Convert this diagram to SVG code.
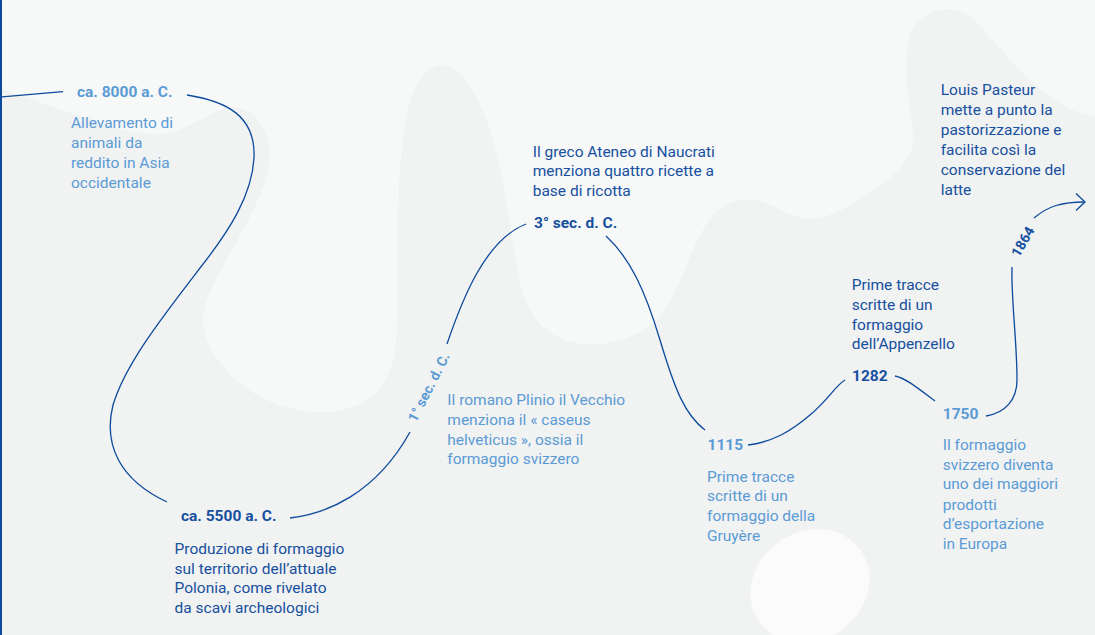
<svg xmlns="http://www.w3.org/2000/svg" width="1095" height="635" viewBox="0 0 1095 635">
<style>
text{font-family:Roboto,"Liberation Sans",sans-serif;font-size:15.5px}
.dk{fill:#16509f}
.lt{fill:#5b9bd5}
.b{font-weight:700}
.rot{font-size:14px;font-weight:700}
.ln{fill:none;stroke:#0c4a9c;stroke-width:1.3}
</style>
<defs>
<marker id="arr" viewBox="0 0 12 20" refX="10" refY="10" markerWidth="12" markerHeight="20" markerUnits="userSpaceOnUse" orient="auto">
<path d="M1,1.5 L10,10 L1,18.5" fill="none" stroke="#0c4a9c" stroke-width="1.3"/>
</marker>
</defs>
<g id="background">
<rect width="1095" height="635" fill="#f1f2f2"/>
<path fill="#f7f8f8" d="M0,0 L1095,0 L1095,117 L1082,113.5 Q1069,110 1050,96.5 Q1031,83 1008.5,58 Q986,33 976.5,22.5 Q967,12 953.5,10 Q940,8 926,15 Q912,22 908,44.5 Q904,67 908,93.5 Q912,120 913,135 Q914,150 904.5,162.5 Q895,175 877.5,187.5 Q860,200 843,209 Q826,218 813,219 Q800,220 783,211 Q766,202 753,200 Q740,198 726,205.5 Q712,213 702,231.5 Q692,250 684,271.5 Q676,293 664,310 Q652,327 633,335 Q614,343 598,344.5 Q582,346 564,339.5 Q546,333 534,316.5 Q522,300 517,266.5 Q512,233 503.5,186.5 Q495,140 482.5,110 Q470,80 455,70 Q440,60 426,72.5 Q412,85 406,117.5 Q400,150 398.5,205 Q397,260 397.5,296.5 Q398,333 394,355.5 Q390,378 375,393 Q360,408 334.5,411.5 Q309,415 279.5,405 Q250,395 231,375 Q212,355 206,337.5 Q200,320 206,302.5 Q212,285 236,242.5 Q260,200 266,178.5 Q272,157 268.5,142.5 Q265,128 255,117.5 Q245,107 234.5,107 Q224,107 203,118.5 Q182,130 164.5,133.5 Q147,137 108.5,125 Q70,113 35,100.5 L0,88 Z"/>
<ellipse cx="810" cy="586" rx="62" ry="54" transform="rotate(-35 810 586)" fill="#fbfbfb"/>
<rect x="0" y="0" width="2" height="635" fill="#0c4a9c"/>
</g>
<g id="connectors">
<path class="ln" d="M2,96.8 L63,91.7"/>
<path class="ln" d="M187,95 C225,101 256,115 254,158 C252,195 230,230 200,268 C160,320 125,365 113,405 C103,445 120,480 167,502"/>
<path class="ln" d="M290,518 C325,514 375,495 410,432"/>
<path class="ln" d="M447,344 C462,300 485,240 526,224"/>
<path class="ln" d="M606,236 C630,258 645,290 660,340 C675,390 685,415 705,430"/>
<path class="ln" d="M748,445 C772,442 790,432 810,415 S835,386 845,380"/>
<path class="ln" d="M895,376 C905,378 915,386 935,401"/>
<path class="ln" d="M986,416 C1005,413 1017,400 1017,380 C1017,340 1011,300 1012,267"/>
<path class="ln" d="M1034,218 C1048,206 1062,202 1085,202" marker-end="url(#arr)"/>
</g>
<g id="node-8000">
<text class="lt b" x="77" y="97.3">ca. 8000 a. C.</text>
<text class="lt" x="71"><tspan x="71" y="128.3">Allevamento di</tspan><tspan x="71" y="148.3">animali da</tspan><tspan x="71" y="168.3">reddito in Asia</tspan><tspan x="71" y="188.3">occidentale</tspan></text>
</g>
<g id="node-5500">
<text class="dk b" x="181" y="520.7">ca. 5500 a. C.</text>
<text class="dk"><tspan x="174.5" y="554">Produzione di formaggio</tspan><tspan x="174.5" y="573.5">sul territorio dell’attuale</tspan><tspan x="174.5" y="593.2">Polonia, come rivelato</tspan><tspan x="174.5" y="612.8">da scavi archeologici</tspan></text>
</g>
<g id="node-1sec">
<text class="lt rot" transform="translate(416,423) rotate(-63)">1° sec. d. C.</text>
<text class="lt"><tspan x="447.3" y="405">Il romano Plinio il Vecchio</tspan><tspan x="447.3" y="425">menziona il « caseus</tspan><tspan x="447.3" y="444.7">helveticus », ossia il</tspan><tspan x="447.3" y="464">formaggio svizzero</tspan></text>
</g>
<g id="node-3sec">
<text class="dk"><tspan x="532.7" y="156.7">Il greco Ateneo di Naucrati</tspan><tspan x="532.7" y="176.2">menziona quattro ricette a</tspan><tspan x="532.7" y="195.6">base di ricotta</tspan></text>
<text class="dk b" x="534" y="228.3">3° sec. d. C.</text>
</g>
<g id="node-1115">
<text class="lt b" x="707.5" y="450">1115</text>
<text class="lt"><tspan x="707" y="481.5">Prime tracce</tspan><tspan x="707" y="501">scritte di un</tspan><tspan x="707" y="520.7">formaggio della</tspan><tspan x="707" y="540.5">Gruyère</tspan></text>
</g>
<g id="node-1282">
<text class="dk"><tspan x="851.7" y="290">Prime tracce</tspan><tspan x="851.7" y="309.8">scritte di un</tspan><tspan x="851.7" y="329.5">formaggio</tspan><tspan x="851.7" y="349.3">dell’Appenzello</tspan></text>
<text class="dk b" x="852" y="380.7">1282</text>
</g>
<g id="node-1750">
<text class="lt b" x="942.8" y="419">1750</text>
<text class="lt"><tspan x="942.7" y="450">Il formaggio</tspan><tspan x="942.7" y="469.6">svizzero diventa</tspan><tspan x="942.7" y="489.4">uno dei maggiori</tspan><tspan x="942.7" y="509.5">prodotti</tspan><tspan x="942.7" y="529.3">d’esportazione</tspan><tspan x="942.7" y="549.3">in Europa</tspan></text>
</g>
<g id="node-1864">
<text class="dk rot" transform="translate(1019,258) rotate(-60)">1864</text>
<text class="dk"><tspan x="940.7" y="95">Louis Pasteur</tspan><tspan x="940.7" y="115">mette a punto la</tspan><tspan x="940.7" y="135">pastorizzazione e</tspan><tspan x="940.7" y="155">facilita così la</tspan><tspan x="940.7" y="175">conservazione del</tspan><tspan x="940.7" y="194.5">latte</tspan></text>
</g>
</svg>
